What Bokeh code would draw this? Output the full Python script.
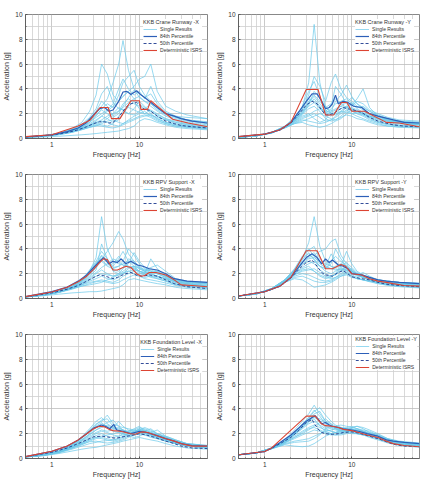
from bokeh.plotting import figure
from bokeh.layouts import gridplot
from bokeh.models import FixedTicker, Legend, LegendItem, BasicTickFormatter
from bokeh.embed import file_html
from bokeh.resources import INLINE

# Common frequency grid of the single-result spectra [Hz]
single_freq = [0.5, 0.8, 1.2, 1.7, 2.2, 2.7, 3.2, 3.7, 4.3, 5.0, 5.8, 6.5,
               7.5, 8.7, 10, 11.5, 13.5, 16, 20, 26, 35, 60]

# ---------------- KKB Crane Runway -X ----------------
crane_x_single = [
    [0.12, 0.22, 0.4, 0.7, 1.0, 1.5, 2.0, 2.6, 3.2, 4.5, 6.0, 7.9, 5.5, 4.0, 3.3, 3.0, 2.6, 2.2, 1.8, 1.5, 1.3, 1.1],
    [0.12, 0.22, 0.42, 0.8, 1.3, 2.2, 3.5, 6.0, 5.2, 3.5, 3.0, 3.4, 3.8, 3.2, 2.8, 2.5, 2.2, 1.9, 1.6, 1.4, 1.2, 1.0],
    [0.1, 0.2, 0.35, 0.55, 0.8, 1.1, 1.4, 1.8, 2.2, 2.6, 3.0, 3.4, 3.8, 4.2, 4.8, 5.0, 6.0, 3.8, 2.6, 2.2, 1.9, 1.6],
    [0.11, 0.2, 0.38, 0.65, 0.95, 1.3, 1.8, 2.4, 2.8, 2.5, 3.5, 4.5, 5.0, 5.5, 4.2, 3.5, 3.0, 2.4, 2.0, 1.7, 1.5, 1.3],
    [0.08, 0.12, 0.18, 0.25, 0.3, 0.35, 0.4, 0.45, 0.5, 0.55, 0.6, 0.7, 0.8, 1.0, 1.4, 1.6, 1.5, 1.3, 1.1, 0.9, 0.8, 0.7],
    [0.11, 0.2, 0.36, 0.6, 0.9, 1.2, 1.5, 1.8, 1.6, 1.3, 1.5, 2.0, 2.6, 3.0, 2.4, 2.0, 2.3, 2.0, 1.6, 1.3, 1.1, 0.9],
    [0.1, 0.19, 0.33, 0.55, 0.8, 1.0, 1.2, 1.1, 1.0, 1.2, 1.8, 2.2, 2.0, 2.4, 3.0, 2.6, 2.0, 1.6, 1.3, 1.1, 1.0, 0.85],
    [0.12, 0.21, 0.4, 0.72, 1.1, 1.6, 2.2, 3.0, 2.6, 1.8, 2.2, 2.8, 3.2, 2.8, 2.6, 2.4, 2.8, 2.5, 2.0, 1.8, 1.7, 1.6],
    [0.1, 0.18, 0.3, 0.5, 0.7, 0.9, 1.0, 1.2, 1.4, 1.5, 1.3, 1.2, 1.5, 1.8, 2.0, 2.2, 1.8, 1.5, 1.2, 1.0, 0.9, 0.75],
    [0.11, 0.2, 0.37, 0.62, 0.9, 1.3, 1.7, 2.0, 2.3, 2.8, 4.0, 4.8, 4.0, 3.5, 3.8, 3.2, 4.2, 3.0, 2.2, 1.8, 1.5, 1.2],
    [0.11, 0.2, 0.36, 0.6, 0.85, 1.1, 1.3, 1.5, 1.8, 2.0, 2.2, 2.5, 2.9, 3.2, 3.4, 3.0, 2.8, 2.3, 1.9, 1.6, 1.4, 1.2],
    [0.1, 0.19, 0.34, 0.58, 0.82, 1.05, 1.25, 1.4, 1.3, 1.1, 1.0, 1.2, 1.4, 1.6, 1.8, 1.9, 1.7, 1.4, 1.2, 1.0, 0.9, 0.8],
    [0.11, 0.21, 0.39, 0.68, 1.0, 1.4, 1.9, 2.3, 2.0, 1.7, 2.0, 2.6, 3.3, 3.9, 3.6, 3.3, 3.6, 2.8, 2.1, 1.7, 1.5, 1.35],
    [0.1, 0.19, 0.33, 0.52, 0.75, 0.95, 1.1, 1.3, 1.6, 2.0, 2.5, 2.3, 2.0, 1.9, 2.2, 2.4, 2.2, 1.8, 1.5, 1.2, 1.05, 0.9],
    [0.12, 0.22, 0.41, 0.75, 1.15, 1.7, 2.4, 3.6, 4.2, 2.9, 2.4, 2.3, 2.5, 2.3, 2.1, 2.0, 1.9, 1.7, 1.5, 1.3, 1.15, 1.0],
    [0.1, 0.18, 0.31, 0.5, 0.72, 0.9, 1.05, 1.0, 0.9, 0.85, 0.95, 1.1, 1.3, 1.5, 1.7, 1.8, 1.9, 1.6, 1.3, 1.1, 0.95, 0.8],
]
crane_x_pct_freq = [0.5, 1, 1.5, 2, 2.5, 3, 3.5, 4, 4.5, 5, 5.8, 6.5, 7.2, 8, 9.3, 10.5, 11.5, 13, 16, 20, 25, 30, 40, 60]
crane_x_p84 = [0.13, 0.3, 0.55, 0.85, 1.3, 1.9, 2.4, 2.5, 2.2, 2.3, 3.0, 3.75, 3.8, 3.55, 3.85, 3.5, 3.3, 3.0, 2.5, 2.0, 1.8, 1.6, 1.4, 1.25]
crane_x_p50 = [0.12, 0.27, 0.48, 0.7, 0.95, 1.2, 1.35, 1.35, 1.25, 1.3, 1.7, 2.2, 2.6, 2.8, 2.9, 2.6, 2.3, 2.3, 1.8, 1.4, 1.2, 1.05, 0.95, 0.85]
crane_x_isrs_freq = [0.5, 1, 2, 2.75, 3.55, 4.4, 4.8, 6.0, 8.0, 10.0, 10.4, 12.4, 13.5, 24, 36, 60]
crane_x_isrs = [0.15, 0.3, 1.0, 1.5, 2.5, 2.5, 1.6, 1.6, 3.05, 3.05, 2.35, 2.35, 3.05, 1.55, 1.25, 0.95]

# ---------------- KKB Crane Runway -Y ----------------
crane_y_single = [
    [0.1, 0.22, 0.5, 1.0, 1.7, 2.5, 4.5, 9.2, 4.5, 2.5, 2.2, 2.4, 2.6, 2.4, 2.2, 2.0, 1.9, 1.7, 1.5, 1.3, 1.2, 1.1],
    [0.1, 0.22, 0.48, 0.95, 1.6, 2.3, 3.5, 5.0, 4.2, 3.0, 4.5, 5.2, 4.0, 3.3, 3.0, 2.6, 2.3, 2.0, 1.8, 1.6, 1.4, 1.2],
    [0.1, 0.21, 0.45, 0.9, 1.4, 1.8, 2.0, 1.6, 1.3, 1.5, 2.2, 3.0, 3.5, 4.3, 3.4, 2.8, 2.5, 2.2, 1.9, 1.6, 1.4, 1.3],
    [0.1, 0.21, 0.46, 0.92, 1.5, 2.1, 2.8, 3.2, 2.6, 2.0, 1.8, 2.2, 2.8, 3.0, 2.7, 3.2, 4.0, 2.5, 1.8, 1.5, 1.3, 1.1],
    [0.1, 0.2, 0.44, 0.85, 1.2, 1.3, 1.1, 1.0, 0.9, 1.0, 1.2, 1.4, 1.6, 2.0, 2.3, 2.2, 1.9, 1.6, 1.3, 1.1, 1.0, 0.9],
    [0.1, 0.22, 0.47, 0.95, 1.55, 2.2, 3.0, 3.5, 3.0, 2.5, 2.8, 3.2, 2.8, 2.5, 2.4, 2.2, 2.0, 1.8, 1.6, 1.4, 1.3, 1.2],
    [0.1, 0.21, 0.45, 0.88, 1.3, 1.6, 1.8, 2.0, 1.7, 1.4, 1.5, 1.7, 2.0, 2.3, 2.0, 1.8, 1.6, 1.4, 1.2, 1.0, 0.95, 0.9],
    [0.1, 0.22, 0.47, 0.93, 1.5, 2.0, 2.6, 2.9, 2.4, 2.0, 2.4, 2.8, 3.0, 3.2, 2.8, 2.5, 2.6, 2.2, 1.8, 1.5, 1.3, 1.1],
    [0.1, 0.21, 0.46, 0.9, 1.4, 1.9, 2.4, 2.6, 2.2, 1.6, 1.4, 1.5, 1.8, 2.2, 2.5, 2.3, 2.0, 1.7, 1.4, 1.2, 1.1, 1.0],
    [0.1, 0.22, 0.48, 0.96, 1.6, 2.4, 3.2, 3.0, 2.5, 2.2, 2.6, 4.2, 3.6, 2.8, 2.6, 3.0, 2.8, 2.3, 2.0, 1.7, 1.5, 1.4],
    [0.1, 0.21, 0.44, 0.85, 1.2, 1.4, 1.6, 1.8, 2.0, 1.8, 1.6, 1.5, 1.7, 1.9, 1.8, 1.6, 1.5, 1.3, 1.1, 1.0, 0.9, 0.85],
    [0.1, 0.22, 0.47, 0.92, 1.45, 2.0, 2.7, 3.8, 3.3, 2.6, 2.0, 1.9, 2.1, 2.5, 2.9, 2.4, 2.1, 1.8, 1.6, 1.5, 1.4, 1.3],
    [0.1, 0.22, 0.48, 0.97, 1.65, 2.6, 3.8, 4.6, 3.4, 2.3, 2.0, 2.1, 2.4, 2.6, 2.4, 2.2, 2.0, 1.8, 1.6, 1.4, 1.3, 1.2],
    [0.1, 0.21, 0.45, 0.87, 1.25, 1.5, 1.4, 1.3, 1.2, 1.3, 1.5, 1.8, 2.2, 2.6, 2.3, 2.0, 1.8, 1.5, 1.3, 1.15, 1.05, 0.95],
    [0.1, 0.22, 0.47, 0.94, 1.5, 2.1, 2.9, 3.4, 2.8, 2.2, 2.1, 2.3, 2.6, 2.9, 3.3, 2.8, 2.4, 2.0, 1.7, 1.5, 1.35, 1.25],
    [0.1, 0.21, 0.46, 0.9, 1.35, 1.7, 1.9, 2.2, 2.4, 2.1, 1.9, 2.0, 2.2, 2.1, 2.0, 2.1, 2.2, 1.9, 1.6, 1.4, 1.25, 1.15],
]
crane_y_pct_freq = [0.5, 1, 1.5, 2, 2.5, 3, 3.5, 4, 4.5, 5, 5.5, 6, 6.5, 7, 8, 9, 10.5, 13, 16, 20, 30, 40, 60]
crane_y_p84 = [0.15, 0.35, 0.7, 1.3, 2.2, 3.0, 3.6, 3.6, 3.0, 2.4, 2.5, 2.8, 3.5, 2.8, 3.0, 2.9, 2.6, 2.5, 2.0, 1.8, 1.5, 1.3, 1.25]
crane_y_p50 = [0.15, 0.34, 0.68, 1.25, 2.0, 2.7, 3.0, 2.8, 2.3, 1.9, 1.9, 2.0, 2.1, 2.3, 2.5, 2.4, 2.3, 2.1, 1.7, 1.4, 1.1, 1.0, 0.95]
crane_y_isrs_freq = [0.5, 1, 1.5, 2, 3, 4.1, 5, 6.2, 7.6, 8.8, 10, 14, 25, 35, 60]
crane_y_isrs = [0.15, 0.35, 0.7, 1.3, 3.95, 3.95, 1.9, 1.9, 2.9, 2.9, 2.2, 2.2, 1.3, 1.25, 0.95]

# ---------------- KKB RPV Support -X ----------------
rpv_x_single = [
    [0.14, 0.3, 0.6, 1.0, 1.5, 2.2, 3.3, 6.6, 4.0, 3.0, 2.8, 2.7, 2.6, 2.5, 2.2, 2.0, 1.9, 1.8, 1.6, 1.4, 1.2, 1.0],
    [0.14, 0.3, 0.58, 0.95, 1.4, 2.0, 2.6, 3.2, 3.8, 4.5, 5.4, 4.8, 3.6, 3.0, 2.5, 2.2, 2.0, 1.8, 1.6, 1.3, 1.2, 1.1],
    [0.14, 0.29, 0.55, 0.9, 1.3, 1.8, 2.3, 4.4, 3.2, 2.5, 2.6, 3.0, 4.0, 3.5, 2.8, 2.4, 2.2, 2.0, 1.7, 1.4, 1.2, 1.0],
    [0.13, 0.27, 0.5, 0.8, 1.1, 1.4, 1.6, 1.8, 1.6, 1.5, 1.7, 2.0, 2.4, 2.6, 2.2, 2.0, 3.2, 2.4, 1.8, 1.4, 1.2, 1.0],
    [0.12, 0.22, 0.35, 0.45, 0.5, 0.55, 0.55, 0.6, 0.7, 0.8, 0.9, 1.1, 1.5, 1.6, 1.5, 1.4, 1.3, 1.2, 1.1, 0.9, 0.8, 0.7],
    [0.14, 0.3, 0.58, 0.95, 1.45, 2.1, 2.8, 3.5, 3.0, 2.6, 3.2, 3.8, 3.0, 2.6, 2.4, 2.2, 2.3, 2.1, 1.9, 1.5, 1.3, 1.2],
    [0.13, 0.28, 0.52, 0.85, 1.2, 1.6, 2.0, 2.3, 2.0, 1.8, 2.0, 2.4, 2.8, 3.7, 3.0, 2.5, 2.2, 2.0, 1.7, 1.3, 1.1, 0.95],
    [0.13, 0.27, 0.5, 0.8, 1.1, 1.3, 1.4, 1.5, 1.4, 1.3, 1.5, 1.8, 2.0, 2.2, 2.0, 1.9, 1.7, 1.6, 1.4, 1.1, 1.0, 0.85],
    [0.14, 0.3, 0.6, 1.0, 1.5, 2.3, 3.0, 3.8, 3.2, 2.2, 2.0, 2.2, 2.5, 2.6, 2.5, 2.3, 2.5, 2.7, 2.2, 1.6, 1.4, 1.3],
    [0.13, 0.28, 0.53, 0.88, 1.25, 1.7, 2.1, 2.5, 2.8, 3.2, 3.0, 2.7, 2.5, 2.4, 2.1, 1.9, 1.8, 1.7, 1.5, 1.2, 1.05, 0.9],
    [0.13, 0.27, 0.5, 0.8, 1.0, 1.1, 1.2, 1.3, 1.5, 1.7, 1.9, 2.0, 2.2, 2.0, 1.8, 1.7, 1.8, 1.6, 1.4, 1.15, 1.0, 0.9],
    [0.14, 0.29, 0.56, 0.92, 1.35, 1.9, 2.5, 3.0, 2.6, 2.4, 2.6, 2.8, 3.0, 2.8, 2.4, 2.2, 2.4, 2.2, 1.8, 1.4, 1.3, 1.15],
    [0.14, 0.29, 0.57, 0.93, 1.4, 2.0, 2.7, 3.4, 2.9, 2.3, 2.2, 2.5, 3.2, 3.0, 2.6, 2.3, 2.1, 2.2, 1.9, 1.5, 1.3, 1.2],
    [0.13, 0.27, 0.51, 0.82, 1.15, 1.5, 1.8, 2.0, 1.9, 1.8, 1.9, 2.1, 2.2, 2.3, 2.2, 2.1, 2.0, 1.8, 1.6, 1.3, 1.1, 0.95],
    [0.14, 0.3, 0.59, 0.98, 1.5, 2.2, 2.9, 3.1, 2.7, 2.8, 3.4, 3.0, 2.6, 2.4, 2.2, 2.1, 2.1, 2.0, 1.8, 1.5, 1.35, 1.25],
    [0.13, 0.26, 0.48, 0.75, 1.0, 1.2, 1.35, 1.4, 1.3, 1.2, 1.3, 1.5, 1.7, 1.9, 1.8, 1.6, 1.5, 1.4, 1.25, 1.05, 0.9, 0.8],
]
rpv_x_pct_freq = [0.5, 1, 1.5, 2, 2.5, 3, 3.5, 3.9, 4.5, 5, 5.6, 6.2, 7, 8, 9.5, 11, 13, 16, 20, 25, 35, 60]
rpv_x_p84 = [0.15, 0.55, 0.92, 1.4, 1.9, 2.5, 3.0, 3.3, 2.8, 3.0, 2.9, 3.2, 2.8, 3.0, 2.7, 2.6, 2.4, 2.3, 2.0, 1.6, 1.4, 1.3]
rpv_x_p50 = [0.13, 0.45, 0.75, 1.05, 1.4, 1.7, 1.9, 1.85, 1.7, 1.6, 1.7, 1.85, 2.0, 2.1, 1.85, 1.8, 1.9, 1.8, 1.5, 1.2, 0.95, 0.8]
rpv_x_isrs_freq = [0.5, 1, 1.5, 2, 2.5, 3, 3.5, 3.9, 4.3, 5, 5.6, 7, 8, 9.5, 10.5, 11.5, 13, 15.5, 20, 25, 30, 40, 60]
rpv_x_isrs = [0.15, 0.53, 0.9, 1.35, 1.8, 2.35, 2.9, 3.2, 3.15, 2.3, 2.3, 2.6, 2.5, 1.95, 1.8, 1.85, 2.1, 2.1, 1.9, 1.5, 1.1, 1.05, 0.95]

# ---------------- KKB RPV Support -Y ----------------
rpv_y_single = [
    [0.2, 0.38, 0.8, 1.5, 2.3, 3.2, 4.5, 6.6, 4.2, 3.0, 2.6, 2.4, 2.3, 2.0, 1.8, 1.6, 1.5, 1.4, 1.3, 1.2, 1.1, 1.0],
    [0.2, 0.38, 0.78, 1.45, 2.2, 2.9, 3.3, 3.5, 3.8, 4.0, 4.6, 4.8, 3.5, 2.8, 2.3, 2.0, 1.8, 1.6, 1.5, 1.3, 1.2, 1.1],
    [0.2, 0.37, 0.75, 1.4, 2.0, 2.4, 2.6, 2.2, 1.8, 1.6, 1.7, 2.0, 2.6, 3.8, 2.8, 2.2, 1.9, 1.6, 1.4, 1.3, 1.2, 1.0],
    [0.2, 0.36, 0.72, 1.3, 1.6, 1.5, 1.2, 0.9, 1.0, 1.1, 1.3, 1.5, 1.8, 2.0, 1.8, 1.6, 1.5, 1.4, 1.2, 1.1, 1.0, 0.9],
    [0.2, 0.38, 0.79, 1.5, 2.3, 3.3, 3.6, 3.2, 2.6, 2.4, 3.0, 3.4, 3.0, 2.6, 2.2, 2.0, 1.8, 1.7, 1.5, 1.4, 1.3, 1.2],
    [0.2, 0.37, 0.76, 1.4, 2.1, 2.8, 3.0, 2.8, 2.3, 2.0, 1.8, 1.9, 2.2, 2.5, 2.2, 1.9, 1.7, 1.5, 1.3, 1.2, 1.1, 0.95],
    [0.2, 0.37, 0.74, 1.35, 1.9, 2.2, 2.3, 2.4, 2.1, 1.8, 1.6, 1.7, 2.0, 2.3, 2.4, 2.0, 1.7, 1.5, 1.3, 1.15, 1.05, 0.9],
    [0.2, 0.38, 0.8, 1.5, 2.4, 3.4, 4.0, 3.4, 2.8, 2.5, 2.4, 2.6, 2.8, 2.6, 2.2, 2.0, 1.8, 1.6, 1.5, 1.4, 1.3, 1.25],
    [0.2, 0.37, 0.75, 1.38, 2.0, 2.5, 2.8, 3.0, 2.6, 2.2, 2.0, 2.2, 2.4, 2.2, 2.0, 1.9, 2.1, 1.8, 1.5, 1.3, 1.15, 1.0],
    [0.2, 0.38, 0.78, 1.45, 2.2, 3.0, 3.4, 3.7, 3.0, 2.6, 3.6, 3.0, 2.5, 2.3, 2.1, 1.8, 1.7, 1.6, 1.5, 1.35, 1.25, 1.15],
    [0.2, 0.36, 0.73, 1.32, 1.8, 2.0, 1.9, 1.7, 1.5, 1.4, 1.5, 1.7, 1.9, 2.1, 1.9, 1.7, 1.5, 1.4, 1.3, 1.1, 1.0, 0.9],
    [0.2, 0.37, 0.77, 1.42, 2.1, 2.7, 3.2, 3.3, 3.0, 2.8, 2.6, 2.5, 2.6, 2.9, 2.5, 2.1, 1.9, 1.7, 1.5, 1.4, 1.3, 1.2],
    [0.2, 0.38, 0.79, 1.48, 2.25, 3.1, 3.7, 3.1, 2.6, 2.4, 2.8, 4.0, 3.2, 2.6, 2.2, 1.9, 1.7, 1.6, 1.45, 1.35, 1.25, 1.15],
    [0.2, 0.37, 0.74, 1.36, 1.9, 2.3, 2.4, 2.2, 1.9, 1.7, 1.8, 2.0, 2.3, 2.6, 2.2, 1.9, 1.7, 1.5, 1.35, 1.2, 1.1, 1.0],
    [0.2, 0.38, 0.8, 1.5, 2.35, 3.3, 3.9, 4.2, 3.2, 2.6, 2.4, 2.3, 2.4, 2.3, 2.1, 1.9, 1.8, 1.6, 1.45, 1.3, 1.2, 1.1],
    [0.2, 0.36, 0.73, 1.3, 1.7, 1.8, 1.6, 1.4, 1.3, 1.3, 1.4, 1.6, 1.8, 1.9, 1.7, 1.6, 1.5, 1.35, 1.2, 1.05, 0.95, 0.85],
]
rpv_y_pct_freq = [0.5, 1, 1.5, 2, 2.5, 3, 3.5, 4, 4.5, 5, 5.5, 6, 7, 8, 9, 10, 13, 16, 20, 25, 35, 60]
rpv_y_p84 = [0.2, 0.55, 1.0, 1.7, 2.6, 3.3, 3.6, 3.3, 2.8, 3.2, 2.9, 3.1, 2.7, 2.6, 2.4, 2.0, 1.9, 1.7, 1.5, 1.4, 1.3, 1.2]
rpv_y_p50 = [0.2, 0.54, 0.98, 1.65, 2.4, 2.9, 3.1, 2.6, 2.1, 1.9, 1.85, 1.8, 2.1, 2.25, 2.0, 1.75, 1.6, 1.5, 1.3, 1.15, 1.05, 0.95]
rpv_y_isrs_freq = [0.5, 1, 1.5, 2, 3, 4, 5, 6, 7.5, 8.5, 10, 13, 16, 20, 25, 30, 40, 60]
rpv_y_isrs = [0.2, 0.55, 1.0, 1.7, 3.85, 3.85, 2.4, 2.4, 2.75, 2.6, 2.0, 1.9, 1.6, 1.4, 1.3, 1.2, 1.05, 1.0]

# ---------------- KKB Foundation Level -X ----------------
found_x_single = [
    [0.15, 0.3, 0.6, 1.1, 1.7, 2.3, 2.8, 3.0, 3.5, 2.8, 2.6, 2.5, 2.4, 2.3, 2.5, 2.4, 2.2, 2.0, 1.8, 1.5, 1.2, 1.05],
    [0.14, 0.28, 0.55, 1.0, 1.5, 2.0, 2.5, 2.8, 2.6, 2.4, 3.0, 2.6, 2.3, 2.2, 2.3, 2.2, 2.0, 1.8, 1.6, 1.3, 1.1, 1.0],
    [0.12, 0.22, 0.4, 0.6, 0.75, 0.85, 0.9, 1.0, 1.1, 1.2, 1.3, 1.4, 1.5, 1.6, 1.7, 1.6, 1.5, 1.4, 1.2, 1.0, 0.85, 0.75],
    [0.14, 0.27, 0.52, 0.9, 1.3, 1.7, 2.0, 2.2, 2.1, 1.9, 1.8, 1.9, 2.0, 2.1, 2.4, 2.3, 2.1, 1.9, 1.6, 1.35, 1.1, 0.95],
    [0.13, 0.25, 0.48, 0.8, 1.1, 1.4, 1.6, 1.7, 1.6, 1.5, 1.6, 1.7, 1.9, 2.0, 2.2, 2.1, 1.9, 1.7, 1.5, 1.25, 1.0, 0.9],
    [0.15, 0.29, 0.58, 1.05, 1.6, 2.2, 2.6, 2.9, 2.5, 2.2, 2.1, 2.0, 1.9, 1.9, 2.0, 2.2, 2.4, 2.0, 1.7, 1.4, 1.15, 1.0],
    [0.14, 0.27, 0.5, 0.85, 1.2, 1.5, 1.7, 1.8, 1.9, 2.0, 2.1, 2.0, 1.8, 1.7, 1.8, 2.0, 2.1, 2.3, 1.8, 1.5, 1.2, 1.0],
    [0.13, 0.26, 0.5, 0.85, 1.15, 1.35, 1.4, 1.3, 1.25, 1.3, 1.4, 1.5, 1.7, 1.9, 2.0, 1.9, 1.7, 1.6, 1.4, 1.2, 1.0, 0.85],
    [0.15, 0.3, 0.6, 1.1, 1.75, 2.4, 3.0, 3.3, 2.8, 2.5, 2.3, 2.2, 2.1, 2.0, 2.2, 2.3, 2.1, 1.9, 1.7, 1.45, 1.2, 1.05],
    [0.14, 0.28, 0.54, 0.95, 1.4, 1.8, 2.1, 2.3, 2.2, 2.3, 2.5, 2.3, 2.1, 2.0, 2.1, 2.0, 1.9, 1.7, 1.5, 1.3, 1.1, 0.95],
    [0.13, 0.26, 0.5, 0.88, 1.25, 1.6, 1.85, 2.0, 1.8, 1.7, 1.8, 2.0, 2.2, 2.4, 2.6, 2.2, 1.9, 1.7, 1.5, 1.25, 1.05, 0.9],
    [0.14, 0.28, 0.56, 1.0, 1.5, 1.95, 2.3, 2.5, 2.7, 2.5, 2.2, 2.1, 2.2, 2.3, 2.2, 2.1, 2.0, 1.9, 1.7, 1.4, 1.15, 1.0],
    [0.14, 0.28, 0.55, 0.98, 1.45, 1.9, 2.3, 2.6, 2.9, 3.1, 2.6, 2.3, 2.1, 2.1, 2.3, 2.5, 2.3, 2.0, 1.7, 1.4, 1.15, 1.0],
    [0.13, 0.26, 0.5, 0.86, 1.2, 1.5, 1.7, 1.6, 1.5, 1.4, 1.5, 1.6, 1.8, 1.9, 2.0, 1.9, 1.8, 1.6, 1.4, 1.2, 1.0, 0.85],
    [0.15, 0.3, 0.6, 1.08, 1.65, 2.25, 2.7, 3.1, 3.2, 2.6, 2.4, 2.3, 2.2, 2.2, 2.4, 2.2, 2.0, 1.8, 1.6, 1.35, 1.15, 1.0],
    [0.12, 0.24, 0.45, 0.75, 1.0, 1.2, 1.3, 1.4, 1.45, 1.5, 1.6, 1.8, 2.0, 2.2, 2.3, 2.1, 1.9, 1.7, 1.45, 1.2, 1.0, 0.85],
]
found_x_pct_freq = [0.5, 1, 1.5, 2, 2.5, 3, 3.7, 4.2, 4.6, 5.1, 5.5, 6.5, 8, 10, 12, 15, 20, 25, 30, 40, 60]
found_x_p84 = [0.15, 0.58, 1.0, 1.5, 2.0, 2.45, 2.7, 2.55, 2.4, 2.75, 2.3, 2.2, 2.0, 2.2, 2.1, 1.9, 1.6, 1.4, 1.2, 1.05, 1.0]
found_x_p50 = [0.13, 0.5, 0.85, 1.2, 1.5, 1.75, 1.8, 1.75, 1.7, 1.65, 1.65, 1.75, 1.85, 2.0, 1.9, 1.7, 1.4, 1.2, 1.0, 0.85, 0.8]
found_x_isrs_freq = [0.5, 1, 1.5, 2, 2.5, 3, 3.5, 4, 4.5, 5, 6, 7, 8, 9, 10, 11, 12.5, 15, 20, 25, 30, 40, 60]
found_x_isrs = [0.15, 0.58, 1.0, 1.5, 2.0, 2.4, 2.6, 2.55, 2.35, 2.25, 2.2, 2.1, 2.0, 1.95, 2.1, 2.15, 2.1, 1.9, 1.6, 1.4, 1.2, 1.0, 1.0]

# ---------------- KKB Foundation Level -Y ----------------
found_y_single = [
    [0.3, 0.45, 0.85, 1.5, 2.3, 3.0, 3.6, 4.3, 3.6, 3.0, 2.8, 2.6, 2.5, 2.4, 2.3, 2.2, 2.1, 1.9, 1.7, 1.45, 1.25, 1.1],
    [0.3, 0.45, 0.83, 1.4, 2.0, 2.6, 3.2, 3.8, 4.1, 3.5, 3.0, 2.7, 2.5, 2.4, 2.4, 2.3, 2.2, 2.0, 1.8, 1.5, 1.3, 1.15],
    [0.3, 0.44, 0.78, 1.1, 1.0, 0.95, 1.0, 1.2, 1.5, 1.8, 2.0, 2.1, 2.2, 2.3, 2.4, 2.2, 2.0, 1.8, 1.6, 1.3, 1.1, 0.95],
    [0.3, 0.45, 0.82, 1.35, 1.9, 2.4, 2.8, 3.0, 2.7, 2.4, 2.2, 2.1, 2.0, 2.1, 2.3, 2.4, 2.2, 2.0, 1.7, 1.4, 1.2, 1.0],
    [0.3, 0.45, 0.84, 1.45, 2.1, 2.8, 3.3, 3.5, 3.0, 2.6, 2.5, 2.6, 2.7, 2.6, 2.5, 2.4, 2.3, 2.2, 1.9, 1.6, 1.35, 1.2],
    [0.3, 0.44, 0.8, 1.25, 1.6, 1.9, 2.1, 2.3, 2.2, 2.0, 1.9, 1.9, 2.0, 2.2, 2.5, 2.6, 2.4, 2.1, 1.8, 1.5, 1.3, 1.1],
    [0.3, 0.44, 0.8, 1.3, 1.7, 2.0, 2.3, 2.6, 2.9, 3.2, 2.8, 2.4, 2.2, 2.1, 2.0, 2.0, 1.9, 1.8, 1.6, 1.35, 1.15, 1.0],
    [0.3, 0.45, 0.83, 1.4, 2.0, 2.5, 3.0, 3.2, 2.6, 2.2, 2.0, 1.9, 1.9, 2.0, 2.1, 2.0, 1.9, 1.7, 1.5, 1.25, 1.05, 0.9],
    [0.3, 0.44, 0.79, 1.2, 1.4, 1.5, 1.6, 1.8, 2.0, 2.2, 2.3, 2.4, 2.3, 2.2, 2.1, 2.0, 1.9, 1.8, 1.6, 1.35, 1.15, 1.0],
    [0.3, 0.45, 0.84, 1.45, 2.1, 2.7, 3.1, 3.3, 3.2, 2.9, 2.7, 2.5, 2.4, 2.4, 2.5, 2.6, 2.5, 2.3, 2.0, 1.6, 1.4, 1.25],
    [0.3, 0.44, 0.81, 1.3, 1.8, 2.2, 2.5, 2.7, 2.5, 2.3, 2.2, 2.1, 2.1, 2.2, 2.2, 2.1, 2.0, 1.9, 1.7, 1.4, 1.2, 1.05],
    [0.3, 0.45, 0.82, 1.38, 1.95, 2.5, 2.9, 3.6, 3.8, 3.0, 2.6, 2.4, 2.3, 2.3, 2.3, 2.2, 2.1, 2.0, 1.8, 1.5, 1.3, 1.15],
    [0.3, 0.45, 0.84, 1.42, 2.05, 2.7, 3.3, 3.9, 3.4, 2.8, 2.5, 2.4, 2.4, 2.5, 2.6, 2.4, 2.2, 2.0, 1.8, 1.5, 1.3, 1.15],
    [0.3, 0.44, 0.8, 1.28, 1.7, 2.1, 2.4, 2.5, 2.3, 2.1, 2.0, 2.1, 2.3, 2.4, 2.3, 2.2, 2.1, 1.9, 1.7, 1.4, 1.2, 1.05],
    [0.3, 0.44, 0.79, 1.15, 1.3, 1.35, 1.4, 1.6, 1.9, 2.4, 2.6, 2.5, 2.3, 2.2, 2.2, 2.1, 2.0, 1.9, 1.7, 1.4, 1.2, 1.05],
    [0.3, 0.45, 0.83, 1.4, 2.0, 2.6, 3.1, 3.4, 2.9, 2.5, 2.4, 2.3, 2.2, 2.2, 2.3, 2.3, 2.2, 2.1, 1.9, 1.55, 1.35, 1.2],
]
found_y_pct_freq = [0.5, 1, 1.2, 1.5, 2, 2.5, 3, 3.5, 3.8, 4.2, 4.5, 5, 5.5, 6, 7, 8, 10, 12, 15, 20, 25, 30, 40, 60]
found_y_p84 = [0.3, 0.56, 0.85, 1.3, 1.9, 2.5, 3.0, 3.3, 3.45, 3.1, 2.8, 2.9, 2.7, 2.6, 2.5, 2.4, 2.3, 2.2, 2.0, 1.8, 1.5, 1.4, 1.3, 1.2]
found_y_p50 = [0.3, 0.55, 0.82, 1.2, 1.7, 2.3, 2.9, 3.15, 2.7, 2.3, 2.1, 2.0, 1.97, 1.95, 2.0, 2.1, 2.15, 2.05, 1.85, 1.6, 1.35, 1.15, 1.0, 0.95]
found_y_isrs_freq = [0.5, 1, 1.2, 3, 3.8, 4.5, 5, 6, 7, 8, 10, 12, 15, 20, 25, 30, 40, 60]
found_y_isrs = [0.3, 0.56, 0.85, 3.42, 3.42, 2.8, 2.65, 2.6, 2.5, 2.35, 2.25, 2.1, 1.9, 1.7, 1.4, 1.2, 1.05, 0.95]

x_major_ticks = [1, 10]
x_minor_ticks = [0.6, 0.7, 0.8, 0.9, 2, 3, 4, 5, 6, 7, 8, 9, 20, 30, 40, 50]
y_major_ticks = [0, 2, 4, 6, 8, 10]
y_minor_ticks = [1, 3, 5, 7, 9]

FONT = "Liberation Sans"
C_SINGLE = "#6dcaea"
C_P84 = "#2c5fb8"
C_P50 = "#1d3a8f"
C_ISRS = "#dc4433"


def spectrum_panel(title, singles, pct_freq, p84, p50, isrs_freq, isrs,
                   width, border_left, border_right, legend_margin):
    for curve in singles:
        assert len(curve) == len(single_freq)
    assert len(pct_freq) == len(p84) == len(p50)
    assert len(isrs_freq) == len(isrs)

    p = figure(width=width, height=160, x_axis_type="log",
               x_range=(0.5, 60), y_range=(0, 10),
               output_backend="svg", toolbar_location=None,
               min_border_left=border_left, min_border_right=border_right,
               min_border_top=14, min_border_bottom=21)
    p.background_fill_color = "white"
    p.border_fill_color = "white"
    p.outline_line_color = "#6a6a6a"
    p.outline_line_width = 0.8

    xt = FixedTicker(ticks=x_major_ticks, minor_ticks=x_minor_ticks)
    yt = FixedTicker(ticks=y_major_ticks, minor_ticks=y_minor_ticks)
    p.xaxis.ticker = xt
    p.yaxis.ticker = yt
    p.xgrid.ticker = xt
    p.ygrid.ticker = yt
    p.xaxis.formatter = BasicTickFormatter()

    for grid in (p.xgrid, p.ygrid):
        grid.grid_line_color = "#bcbcbc"
        grid.grid_line_width = 0.8
        grid.minor_grid_line_color = "#cfcfcf"
        grid.minor_grid_line_width = 0.8

    for ax in (p.xaxis, p.yaxis):
        ax.axis_line_color = "#555555"
        ax.axis_line_width = 0.8
        ax.major_tick_out = 0
        ax.major_tick_in = 2
        ax.minor_tick_out = 0
        ax.minor_tick_in = 1
        ax.major_tick_line_color = "#555555"
        ax.minor_tick_line_color = "#555555"
        ax.major_label_text_font = FONT
        ax.major_label_text_font_size = "6.5px"
        ax.major_label_text_color = "#333333"
        ax.axis_label_text_font = FONT
        ax.axis_label_text_font_size = "7px"
        ax.axis_label_text_font_style = "normal"
        ax.axis_label_text_color = "#333333"
    p.xaxis.axis_label = "Frequency [Hz]"
    p.yaxis.axis_label = "Acceleration [g]"
    p.xaxis.major_label_standoff = 3
    p.xaxis.axis_label_standoff = 1
    p.yaxis.major_label_standoff = 3
    p.yaxis.axis_label_standoff = 2

    r_single = p.multi_line([single_freq] * len(singles), singles,
                            line_color=C_SINGLE, line_width=0.75, line_alpha=0.95)
    r_p50 = p.line(pct_freq, p50, line_color=C_P50, line_width=0.9,
                   line_dash="3 2")
    r_p84 = p.line(pct_freq, p84, line_color=C_P84, line_width=1.2)
    r_isrs = p.line(isrs_freq, isrs, line_color=C_ISRS, line_width=1.1)

    legend = Legend(items=[
        LegendItem(label="Single Results", renderers=[r_single]),
        LegendItem(label="84th Percentile", renderers=[r_p84]),
        LegendItem(label="50th Percentile", renderers=[r_p50]),
        LegendItem(label="Deterministic ISRS", renderers=[r_isrs]),
    ])
    legend.title = title
    legend.title_text_font = FONT
    legend.title_text_font_size = "5.5px"
    legend.title_text_font_style = "normal"
    legend.title_text_color = "#333333"
    legend.title_standoff = 1
    legend.label_text_font = FONT
    legend.label_text_font_size = "5px"
    legend.label_text_color = "#333333"
    legend.label_height = 6
    legend.glyph_height = 6
    legend.glyph_width = 14
    legend.label_standoff = 3
    legend.spacing = 1
    legend.padding = 2
    legend.margin = legend_margin
    legend.location = "top_right"
    legend.border_line_color = None
    legend.background_fill_color = "white"
    legend.background_fill_alpha = 1.0
    p.add_layout(legend)
    return p


p1 = spectrum_panel("KKB Crane Runway -X", crane_x_single, crane_x_pct_freq,
                    crane_x_p84, crane_x_p50, crane_x_isrs_freq, crane_x_isrs,
                    212, 20, 5, 5)
p2 = spectrum_panel("KKB Crane Runway -Y", crane_y_single, crane_y_pct_freq,
                    crane_y_p84, crane_y_p50, crane_y_isrs_freq, crane_y_isrs,
                    213, 21, 6, 5)
p3 = spectrum_panel("KKB RPV Support -X", rpv_x_single, rpv_x_pct_freq,
                    rpv_x_p84, rpv_x_p50, rpv_x_isrs_freq, rpv_x_isrs,
                    212, 20, 5, 5)
p4 = spectrum_panel("KKB RPV Support -Y", rpv_y_single, rpv_y_pct_freq,
                    rpv_y_p84, rpv_y_p50, rpv_y_isrs_freq, rpv_y_isrs,
                    213, 21, 6, 5)
p5 = spectrum_panel("KKB Foundation Level -X", found_x_single, found_x_pct_freq,
                    found_x_p84, found_x_p50, found_x_isrs_freq, found_x_isrs,
                    212, 20, 5, 5)
p6 = spectrum_panel("KKB Foundation Level -Y", found_y_single, found_y_pct_freq,
                    found_y_p84, found_y_p50, found_y_isrs_freq, found_y_isrs,
                    213, 26, 1, 2)

grid = gridplot([[p1, p2], [p3, p4], [p5, p6]], toolbar_location=None)

open("out.html", "w").write(file_html(grid, INLINE))
